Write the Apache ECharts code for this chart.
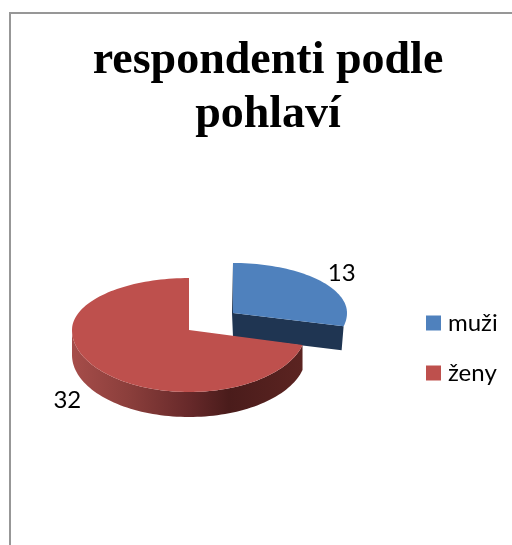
<!DOCTYPE html>
<html>
<head>
<meta charset="utf-8">
<style>html,body{margin:0;padding:0;background:#fff}#c{width:512px;height:545px}</style>
<script src="https://cdn.jsdelivr.net/npm/echarts@6/dist/echarts.min.js"></script>
</head>
<body>
<div id="c"></div>
<script>
const titleText = 'respondenti podle\npohlaví';
const categories = ['muži', 'ženy'];
const values = [13, 32];
const topColors = ['#4F81BD', '#BE504D'];

const total = values.reduce((a, b) => a + b, 0);
// Projected pie geometry for each slice (the exploded slice has its own apex).
const geometry = [
  { cx: 233, cy: 313, rx: 114, ryUp: 50, ryLow: 55, depth: 24, labelK: 1.21, labelDrop: -2 },
  { cx: 189, cy: 330, rx: 117, ryUp: 52, ryLow: 62, depth: 25, labelK: 1.32, labelDrop: 20 }
];

function point(g, deg, drop) {
  const a = deg * Math.PI / 180, c = Math.cos(a), s = Math.sin(a);
  return [g.cx + g.rx * s, g.cy - (c >= 0 ? g.ryUp : g.ryLow) * c + (drop || 0)];
}
function arcPoints(g, from, to, drop) {
  const pts = [], n = Math.max(2, Math.ceil(Math.abs(to - from) / 2));
  for (let i = 0; i <= n; i++) pts.push(point(g, from + (to - from) * i / n, drop));
  return pts;
}

function sliceRenderer(index) {
  return function (params, api) {
    const g = geometry[index];
    const val = api.value(0);
    let before = 0;
    for (let i = 0; i < index; i++) before += values[i];
    const start = before / total * 360, end = (before + val) / total * 360;
    const mid = (start + end) / 2;
    const children = [];

    if (index === 0) {
      // Cut face and outer wall of the exploded slice
      const e = point(g, end);
      children.push({
        type: 'polygon',
        shape: { points: [[g.cx - 1, g.cy - g.ryUp], [g.cx, g.cy], e, [e[0] - 2, e[1] + g.depth], [g.cx, g.cy + g.depth], [g.cx - 1, g.cy]] },
        style: { fill: '#1F3552' }
      });
    } else {
      // Front wall of the main slice with its horizontal shading
      const from = start, to = 270;
      const topEdge = arcPoints(g, from, to);
      const botEdge = arcPoints(g, to, from, g.depth);
      children.push({
        type: 'polygon',
        shape: { points: topEdge.concat(botEdge) },
        style: {
          fill: new echarts.graphic.LinearGradient(g.cx - g.rx, 0, g.cx + g.rx, 0, [
            { offset: 0, color: '#A64D4A' },
            { offset: 0.25, color: '#8A3E3B' },
            { offset: 0.5, color: '#67292A' },
            { offset: 0.67, color: '#4A1C1B' },
            { offset: 1, color: '#5C2421' }
          ], true)
        }
      });
    }
    // Top face
    children.push({
      type: 'polygon',
      shape: { points: [[g.cx, g.cy]].concat(arcPoints(g, start, end)) },
      style: { fill: topColors[index] }
    });
    // Value label
    const a = mid * Math.PI / 180, c = Math.cos(a);
    children.push({
      type: 'text',
      x: g.cx + g.labelK * g.rx * Math.sin(a),
      y: g.cy - g.labelK * (c >= 0 ? g.ryUp : g.ryLow) * c + g.labelDrop,
      style: { text: String(val), fill: '#000', font: '24px Lato', textAlign: 'center', textVerticalAlign: 'middle' }
    });
    return { type: 'group', children };
  };
}

const chart = echarts.init(document.getElementById('c'), null, { renderer: 'canvas' });
chart.setOption({
  animation: false,
  backgroundColor: '#fff',
  title: {
    text: titleText,
    left: 263, top: 29, textAlign: 'center',
    textStyle: { fontFamily: 'Liberation Serif', fontWeight: 'bold', fontSize: 46, lineHeight: 54, color: '#000' }
  },
  legend: {
    orient: 'vertical', left: 421, top: 306, itemWidth: 15, itemHeight: 15, itemGap: 26,
    icon: 'rect',
    data: categories,
    textStyle: { fontFamily: 'Lato', fontSize: 24, color: '#000', padding: [0, 0, 0, 2] }
  },
  graphic: [{
    type: 'rect', silent: true, z: -1,
    shape: { x: 10, y: 13, width: 620, height: 660 },
    style: { fill: 'none', stroke: '#979797', lineWidth: 2 }
  }],
  series: categories.map((name, i) => ({
    type: 'custom', name, coordinateSystem: 'none',
    itemStyle: { color: topColors[i] },
    data: [[values[i]]],
    renderItem: sliceRenderer(i),
    silent: true, z: 2 + i
  }))
});
</script>
</body>
</html>
